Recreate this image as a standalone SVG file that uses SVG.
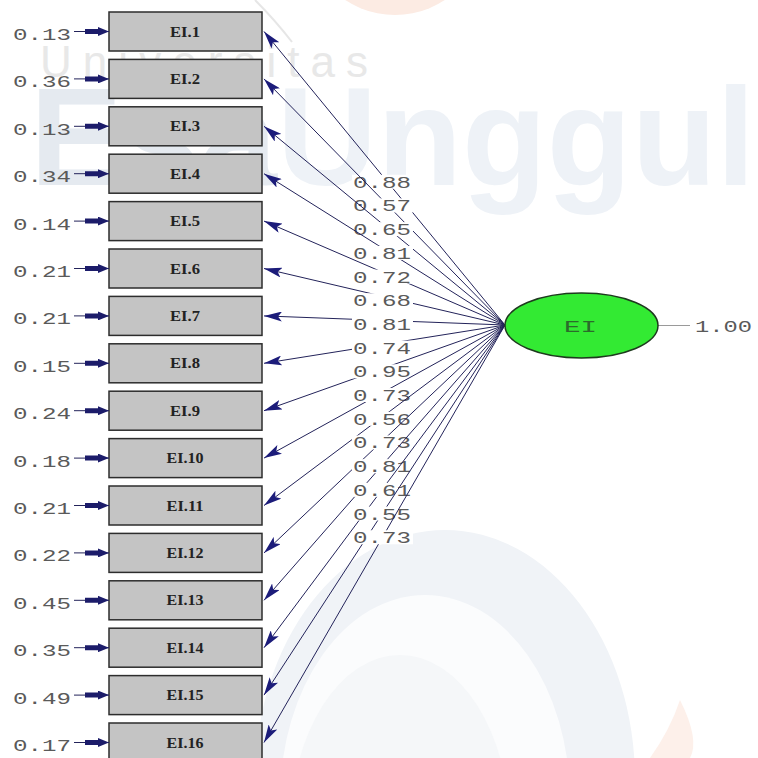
<svg xmlns="http://www.w3.org/2000/svg" width="758" height="758" viewBox="0 0 758 758">
<style>
.box{fill:#c4c4c4;stroke:#2d2d2d;stroke-width:1.5}
.bl{font-family:"Liberation Serif",serif;font-weight:bold;font-size:14px;fill:#222}
.num{font-family:"Liberation Mono",monospace;font-size:17px;fill:#5a5a5a}
.ln{stroke:#23235a;stroke-width:1;fill:none;marker-end:url(#ah)}
.el{stroke:#23235a;stroke-width:1;fill:none;marker-end:url(#ahe)}
.bg{fill:#ffffff}
</style>
<defs>
<marker id="ah" viewBox="0 0 18 10" refX="18" refY="5" markerWidth="18" markerHeight="10" orient="auto" markerUnits="userSpaceOnUse">
<path d="M0,0 L18,5 L0,10 L4,5 z" fill="#1c1c7a"/>
</marker>
<marker id="ahe" viewBox="0 0 24 9" refX="24" refY="4.5" markerWidth="24" markerHeight="9" orient="auto" markerUnits="userSpaceOnUse">
<path d="M0,2 L13,2 L13,0 L24,4.5 L13,9 L13,7 L0,7 z" fill="#1c1c6a"/>
</marker>
</defs>
<rect width="758" height="758" fill="#ffffff"/>
<g id="watermark">
<circle cx="395" cy="-75" r="90" fill="#fcebe3"/>
<path d="M255,0 Q275,20 292,42" stroke="#e6e6e6" stroke-width="2" fill="none"/>
<text x="40" y="77" font-family="Liberation Sans,sans-serif" font-size="44" fill="#e8e8e8" textLength="328" lengthAdjust="spacing">Universitas</text>
<text x="30" y="185" font-family="Liberation Sans,sans-serif" font-weight="bold" font-size="140" textLength="725" lengthAdjust="spacingAndGlyphs"><tspan fill="#e5eaf0">Esa</tspan><tspan fill="#eef2f7">Unggul</tspan></text>
<ellipse cx="445" cy="780" rx="190" ry="250" fill="#f0f3f7"/>
<ellipse cx="425" cy="800" rx="145" ry="205" fill="#fbfcfd"/>
<ellipse cx="400" cy="830" rx="110" ry="175" fill="#f5f7f9"/>
<path d="M680,700 Q700,740 690,758 L650,758 Q670,730 680,700 z" fill="#fdf0ea"/>
</g>
<g id="EI1"><rect class="box" x="109" y="12" width="153" height="39"/><text class="bl" x="170" y="36.5" textLength="30" lengthAdjust="spacingAndGlyphs">EI.1</text><text class="num" x="13" y="40" textLength="58" lengthAdjust="spacingAndGlyphs">0.13</text><line class="el" x1="74" y1="31.5" x2="109" y2="31.5"/></g>
<g id="EI2"><rect class="box" x="109" y="59.4" width="153" height="39"/><text class="bl" x="170" y="83.9" textLength="30" lengthAdjust="spacingAndGlyphs">EI.2</text><text class="num" x="13" y="87.4" textLength="58" lengthAdjust="spacingAndGlyphs">0.36</text><line class="el" x1="74" y1="78.9" x2="109" y2="78.9"/></g>
<g id="EI3"><rect class="box" x="109" y="106.8" width="153" height="39"/><text class="bl" x="170" y="131.3" textLength="30" lengthAdjust="spacingAndGlyphs">EI.3</text><text class="num" x="13" y="134.8" textLength="58" lengthAdjust="spacingAndGlyphs">0.13</text><line class="el" x1="74" y1="126.3" x2="109" y2="126.3"/></g>
<g id="EI4"><rect class="box" x="109" y="154.2" width="153" height="39"/><text class="bl" x="170" y="178.7" textLength="30" lengthAdjust="spacingAndGlyphs">EI.4</text><text class="num" x="13" y="182.2" textLength="58" lengthAdjust="spacingAndGlyphs">0.34</text><line class="el" x1="74" y1="173.7" x2="109" y2="173.7"/></g>
<g id="EI5"><rect class="box" x="109" y="201.6" width="153" height="39"/><text class="bl" x="170" y="226.1" textLength="30" lengthAdjust="spacingAndGlyphs">EI.5</text><text class="num" x="13" y="229.6" textLength="58" lengthAdjust="spacingAndGlyphs">0.14</text><line class="el" x1="74" y1="221.1" x2="109" y2="221.1"/></g>
<g id="EI6"><rect class="box" x="109" y="249" width="153" height="39"/><text class="bl" x="170" y="273.5" textLength="30" lengthAdjust="spacingAndGlyphs">EI.6</text><text class="num" x="13" y="277" textLength="58" lengthAdjust="spacingAndGlyphs">0.21</text><line class="el" x1="74" y1="268.5" x2="109" y2="268.5"/></g>
<g id="EI7"><rect class="box" x="109" y="296.4" width="153" height="39"/><text class="bl" x="170" y="320.9" textLength="30" lengthAdjust="spacingAndGlyphs">EI.7</text><text class="num" x="13" y="324.4" textLength="58" lengthAdjust="spacingAndGlyphs">0.21</text><line class="el" x1="74" y1="315.9" x2="109" y2="315.9"/></g>
<g id="EI8"><rect class="box" x="109" y="343.8" width="153" height="39"/><text class="bl" x="170" y="368.3" textLength="30" lengthAdjust="spacingAndGlyphs">EI.8</text><text class="num" x="13" y="371.8" textLength="58" lengthAdjust="spacingAndGlyphs">0.15</text><line class="el" x1="74" y1="363.3" x2="109" y2="363.3"/></g>
<g id="EI9"><rect class="box" x="109" y="391.2" width="153" height="39"/><text class="bl" x="170" y="415.7" textLength="30" lengthAdjust="spacingAndGlyphs">EI.9</text><text class="num" x="13" y="419.2" textLength="58" lengthAdjust="spacingAndGlyphs">0.24</text><line class="el" x1="74" y1="410.7" x2="109" y2="410.7"/></g>
<g id="EI10"><rect class="box" x="109" y="438.6" width="153" height="39"/><text class="bl" x="166.5" y="463.1" textLength="37" lengthAdjust="spacingAndGlyphs">EI.10</text><text class="num" x="13" y="466.6" textLength="58" lengthAdjust="spacingAndGlyphs">0.18</text><line class="el" x1="74" y1="458.1" x2="109" y2="458.1"/></g>
<g id="EI11"><rect class="box" x="109" y="486" width="153" height="39"/><text class="bl" x="166.5" y="510.5" textLength="37" lengthAdjust="spacingAndGlyphs">EI.11</text><text class="num" x="13" y="514" textLength="58" lengthAdjust="spacingAndGlyphs">0.21</text><line class="el" x1="74" y1="505.5" x2="109" y2="505.5"/></g>
<g id="EI12"><rect class="box" x="109" y="533.4" width="153" height="39"/><text class="bl" x="166.5" y="557.9" textLength="37" lengthAdjust="spacingAndGlyphs">EI.12</text><text class="num" x="13" y="561.4" textLength="58" lengthAdjust="spacingAndGlyphs">0.22</text><line class="el" x1="74" y1="552.9" x2="109" y2="552.9"/></g>
<g id="EI13"><rect class="box" x="109" y="580.8" width="153" height="39"/><text class="bl" x="166.5" y="605.3" textLength="37" lengthAdjust="spacingAndGlyphs">EI.13</text><text class="num" x="13" y="608.8" textLength="58" lengthAdjust="spacingAndGlyphs">0.45</text><line class="el" x1="74" y1="600.3" x2="109" y2="600.3"/></g>
<g id="EI14"><rect class="box" x="109" y="628.2" width="153" height="39"/><text class="bl" x="166.5" y="652.7" textLength="37" lengthAdjust="spacingAndGlyphs">EI.14</text><text class="num" x="13" y="656.2" textLength="58" lengthAdjust="spacingAndGlyphs">0.35</text><line class="el" x1="74" y1="647.7" x2="109" y2="647.7"/></g>
<g id="EI15"><rect class="box" x="109" y="675.6" width="153" height="39"/><text class="bl" x="166.5" y="700.1" textLength="37" lengthAdjust="spacingAndGlyphs">EI.15</text><text class="num" x="13" y="703.6" textLength="58" lengthAdjust="spacingAndGlyphs">0.49</text><line class="el" x1="74" y1="695.1" x2="109" y2="695.1"/></g>
<g id="EI16"><rect class="box" x="109" y="723" width="153" height="39"/><text class="bl" x="166.5" y="747.5" textLength="37" lengthAdjust="spacingAndGlyphs">EI.16</text><text class="num" x="13" y="751" textLength="58" lengthAdjust="spacingAndGlyphs">0.17</text><line class="el" x1="74" y1="742.5" x2="109" y2="742.5"/></g>
<g id="connectors">
<line class="ln" x1="505" y1="325" x2="264" y2="31.5"/><rect class="bg" x="352" y="174.75" width="61" height="14"/><text class="num" x="353" y="187.75" textLength="58" lengthAdjust="spacingAndGlyphs">0.88</text>
<line class="ln" x1="505" y1="325" x2="264" y2="78.9"/><rect class="bg" x="352" y="198.45" width="61" height="14"/><text class="num" x="353" y="211.45" textLength="58" lengthAdjust="spacingAndGlyphs">0.57</text>
<line class="ln" x1="505" y1="325" x2="264" y2="126.3"/><rect class="bg" x="352" y="222.15" width="61" height="14"/><text class="num" x="353" y="235.15" textLength="58" lengthAdjust="spacingAndGlyphs">0.65</text>
<line class="ln" x1="505" y1="325" x2="264" y2="173.7"/><rect class="bg" x="352" y="245.85" width="61" height="14"/><text class="num" x="353" y="258.85" textLength="58" lengthAdjust="spacingAndGlyphs">0.81</text>
<line class="ln" x1="505" y1="325" x2="264" y2="221.1"/><rect class="bg" x="352" y="269.55" width="61" height="14"/><text class="num" x="353" y="282.55" textLength="58" lengthAdjust="spacingAndGlyphs">0.72</text>
<line class="ln" x1="505" y1="325" x2="264" y2="268.5"/><rect class="bg" x="352" y="293.25" width="61" height="14"/><text class="num" x="353" y="306.25" textLength="58" lengthAdjust="spacingAndGlyphs">0.68</text>
<line class="ln" x1="505" y1="325" x2="264" y2="315.9"/><rect class="bg" x="352" y="316.95" width="61" height="14"/><text class="num" x="353" y="329.95" textLength="58" lengthAdjust="spacingAndGlyphs">0.81</text>
<line class="ln" x1="505" y1="325" x2="264" y2="363.3"/><rect class="bg" x="352" y="340.65" width="61" height="14"/><text class="num" x="353" y="353.65" textLength="58" lengthAdjust="spacingAndGlyphs">0.74</text>
<line class="ln" x1="505" y1="325" x2="264" y2="410.7"/><rect class="bg" x="352" y="364.35" width="61" height="14"/><text class="num" x="353" y="377.35" textLength="58" lengthAdjust="spacingAndGlyphs">0.95</text>
<line class="ln" x1="505" y1="325" x2="264" y2="458.1"/><rect class="bg" x="352" y="388.05" width="61" height="14"/><text class="num" x="353" y="401.05" textLength="58" lengthAdjust="spacingAndGlyphs">0.73</text>
<line class="ln" x1="505" y1="325" x2="264" y2="505.5"/><rect class="bg" x="352" y="411.75" width="61" height="14"/><text class="num" x="353" y="424.75" textLength="58" lengthAdjust="spacingAndGlyphs">0.56</text>
<line class="ln" x1="505" y1="325" x2="264" y2="552.9"/><rect class="bg" x="352" y="435.45" width="61" height="14"/><text class="num" x="353" y="448.45" textLength="58" lengthAdjust="spacingAndGlyphs">0.73</text>
<line class="ln" x1="505" y1="325" x2="264" y2="600.3"/><rect class="bg" x="352" y="459.15" width="61" height="14"/><text class="num" x="353" y="472.15" textLength="58" lengthAdjust="spacingAndGlyphs">0.81</text>
<line class="ln" x1="505" y1="325" x2="264" y2="647.7"/><rect class="bg" x="352" y="482.85" width="61" height="14"/><text class="num" x="353" y="495.85" textLength="58" lengthAdjust="spacingAndGlyphs">0.61</text>
<line class="ln" x1="505" y1="325" x2="264" y2="695.1"/><rect class="bg" x="352" y="506.55" width="61" height="14"/><text class="num" x="353" y="519.55" textLength="58" lengthAdjust="spacingAndGlyphs">0.55</text>
<line class="ln" x1="505" y1="325" x2="264" y2="742.5"/><rect class="bg" x="352" y="530.25" width="61" height="14"/><text class="num" x="353" y="543.25" textLength="58" lengthAdjust="spacingAndGlyphs">0.73</text>
<line x1="658" y1="325.5" x2="690" y2="325.5" stroke="#9a9a9a" stroke-width="1"/>
</g>
<g id="EI">
<ellipse cx="581.5" cy="325.5" rx="76.5" ry="32.5" fill="#33ea33" stroke="#1e3a1e" stroke-width="1.5"/>
<text class="num" x="564" y="331.5" textLength="33" lengthAdjust="spacingAndGlyphs" style="fill:#2b6b2b">EI</text>
<text class="num" x="695" y="331.5" textLength="57" lengthAdjust="spacingAndGlyphs">1.00</text>
</g>
</svg>
